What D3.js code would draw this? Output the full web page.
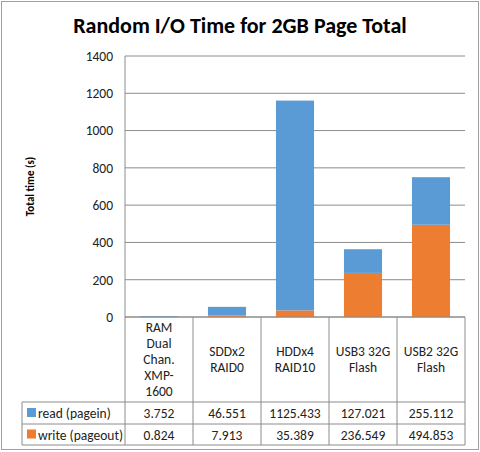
<!DOCTYPE html>
<html><head><meta charset="utf-8">
<script src="https://cdn.jsdelivr.net/npm/d3@7"></script>
<style>body{margin:0;background:#fff}text{font-family:Calibri,Carlito,"Liberation Sans",Arial,sans-serif}</style>
</head><body><div id="chart"></div>
<script>
const categories = [["RAM", "Dual", "Chan.", "XMP-", "1600"], ["SDDx2", "RAID0"], ["HDDx4", "RAID10"], ["USB3 32G", "Flash"], ["USB2 32G", "Flash"]];
const readVals = [3.752, 46.551, 1125.433, 127.021, 255.112];
const writeVals = [0.824, 7.913, 35.389, 236.549, 494.853];
const seriesNames = ["read (pagein)", "write (pageout)"];
const colors = ["#5B9BD5", "#ED7D31"];
const yTicks = [0, 200, 400, 600, 800, 1000, 1200, 1400];

const W = 480, H = 452;
const L = 125, R = 465, T = 56, B = 317;
const svg = d3.select("#chart").append("svg").attr("width", W).attr("height", H);

svg.append("rect").attr("x", 1.5).attr("y", 1.5).attr("width", W - 3).attr("height", H - 4)
  .attr("fill", "#fff").attr("stroke", "#a0a0a0");

svg.append("text").attr("x", 240).attr("y", 33).attr("text-anchor", "middle")
  .attr("font-size", "22px").attr("font-weight", "bold").text("Random I/O Time for 2GB Page Total");

const x = d3.scaleBand().domain(d3.range(categories.length)).range([L, R]).paddingInner(0.44).paddingOuter(0.22);
const cols = d3.scaleBand().domain(d3.range(categories.length)).range([L, R]);
const y = d3.scaleLinear().domain([0, 1400]).range([B, T]);

// gridlines
svg.append("g").selectAll("line").data(yTicks).join("line")
  .attr("x1", L).attr("x2", R).attr("y1", d => y(d)).attr("y2", d => y(d))
  .attr("stroke", "#8c8c8c").attr("stroke-width", 1);
svg.append("line").attr("x1", L).attr("x2", L).attr("y1", T).attr("y2", B).attr("stroke", "#8c8c8c");

const yAxis = svg.append("g").attr("transform", `translate(${L},0)`)
  .call(d3.axisLeft(y).tickValues(yTicks).tickFormat(d3.format("d")).tickSize(0).tickPadding(12));
yAxis.select(".domain").remove();
yAxis.selectAll("text").attr("font-size", "13.5px").attr("fill", "#222")
  .style("font-family", "Calibri,Carlito,'Liberation Sans',Arial,sans-serif");

svg.append("text").attr("transform", `translate(34,${(T + B) / 2}) rotate(-90)`)
  .attr("text-anchor", "middle").attr("font-size", "11px").attr("font-weight", "bold").text("Total time (s)");

// stacked bars
const stacked = categories.map((c, i) => ({ i, w: writeVals[i], r: readVals[i] }));
svg.append("g").selectAll("rect").data(stacked).join("rect")
  .attr("x", d => x(d.i)).attr("width", x.bandwidth())
  .attr("y", d => y(d.w)).attr("height", d => B - y(d.w)).attr("fill", colors[1]);
svg.append("g").selectAll("rect").data(stacked).join("rect")
  .attr("x", d => x(d.i)).attr("width", x.bandwidth())
  .attr("y", d => y(d.w + d.r)).attr("height", d => y(d.w) - y(d.w + d.r)).attr("fill", colors[0]);

// data table
const rowY = [B, 402, 424, 445];
const tl = 22;
const g = svg.append("g").attr("stroke", "#8c8c8c").attr("fill", "none");
g.append("line").attr("x1", L).attr("x2", R).attr("y1", B).attr("y2", B);
[402, 424, 445].forEach(yy => g.append("line").attr("x1", tl).attr("x2", R).attr("y1", yy).attr("y2", yy));
g.append("line").attr("x1", tl).attr("x2", tl).attr("y1", 402).attr("y2", 445);
d3.range(categories.length + 1).forEach(i => {
  const xx = i < categories.length ? cols(i) : R;
  g.append("line").attr("x1", xx).attr("x2", xx).attr("y1", B).attr("y2", 445);
});

categories.forEach((lines, i) => {
  const cx = cols(i) + cols.bandwidth() / 2;
  const lh = 16;
  const y0 = (B + 402) / 2 - (lines.length - 1) * lh / 2 + 4.5;
  lines.forEach((s, k) => svg.append("text").attr("x", cx).attr("y", y0 + k * lh)
    .attr("text-anchor", "middle").attr("font-size", "13.5px").attr("fill", "#222").text(s));
});

[readVals, writeVals].forEach((vals, r) => {
  const yy = (rowY[r + 1] + rowY[r + 2]) / 2 + 5;
  svg.append("rect").attr("x", 27).attr("y", yy - 10).attr("width", 9).attr("height", 9).attr("fill", colors[r]);
  svg.append("text").attr("x", 38).attr("y", yy).attr("font-size", "13.5px").attr("fill", "#222").text(seriesNames[r]);
  vals.forEach((v, i) => svg.append("text").attr("x", cols(i) + cols.bandwidth() / 2).attr("y", yy)
    .attr("text-anchor", "middle").attr("font-size", "13.5px").attr("fill", "#222").text(v.toFixed(3)));
});
</script></body></html>
